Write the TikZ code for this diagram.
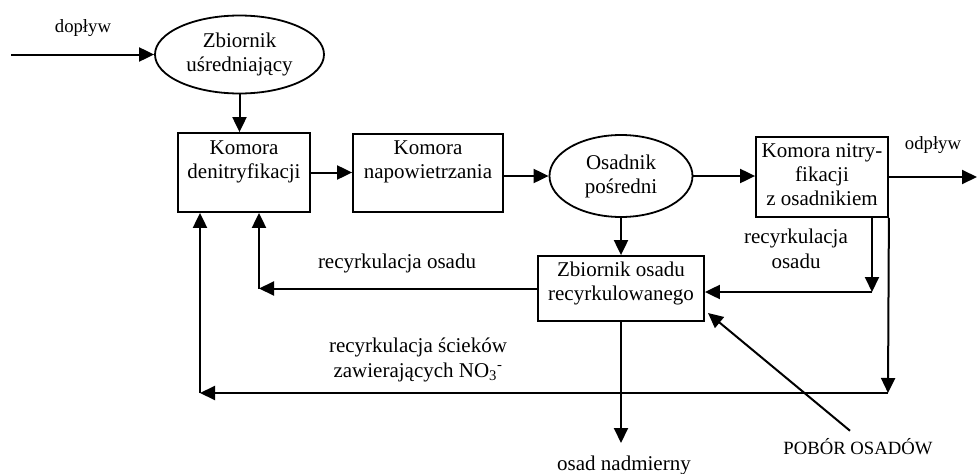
\documentclass[tikz,border=0pt]{standalone}
\usepackage{fontspec}
\setmainfont{Liberation Serif}
\usetikzlibrary{arrows.meta,shapes.geometric,calc}
\newcommand\bxtext[4]{\begin{minipage}[c][#2][t]{#1}\centering\vspace*{#3}#4\end{minipage}}
\tikzset{
  box/.style={draw, rectangle, inner sep=0pt, line width=1.8pt, font=\fontsize{21}{24}\selectfont},
  ell/.style={draw, ellipse, inner sep=0pt, line width=1.8pt, align=center, font=\fontsize{21}{24}\selectfont},
  lab/.style={inner sep=0pt, align=center, font=\fontsize{21}{24.5}\selectfont},
  slab/.style={inner sep=0pt, font=\fontsize{18.7}{22}\selectfont},
  conn/.style={line width=2pt, -{Triangle[length=15pt,width=14pt]}}
}
\begin{document}
\begin{tikzpicture}[x=1pt,y=-1pt]
\useasboundingbox (0,0) rectangle (978,474);
% nodes
\node[ell, minimum width=169pt, minimum height=78pt] (zb) at (239.5,54.5) {Zbiornik\\uśredniający};
\node[box] (den) at (244,172.5) {\bxtext{132pt}{79pt}{7.5pt}{Komora\\denitryfikacji}};
\node[box] (nap) at (428,173) {\bxtext{150pt}{78pt}{6.5pt}{Komora\\napowietrzania}};
\node[ell, minimum width=143pt, minimum height=82pt] (osa) at (621,176) {Osadnik\\pośredni};
\node[box] (nit) at (822,177) {\bxtext{132pt}{80pt}{6.5pt}{Komora nitry-\\fikacji\\z osadnikiem}};
\node[box] (zos) at (621,288.5) {\bxtext{166pt}{65pt}{5.5pt}{Zbiornik osadu\\recyrkulowanego}};
% labels
\node[slab, anchor=base] (dop) at (83,32) {dopływ};
\node[slab, anchor=base] (odp) at (933,149) {odpływ};
\node[lab, anchor=north] (rc1) at (796,229) {recyrkulacja\\osadu};
\node[lab, anchor=base] (rc2) at (397,268) {recyrkulacja osadu};
\node[lab, anchor=north] (rc3) at (418,338) {recyrkulacja ścieków\\zawierających NO\textsubscript{3}\textsuperscript{-}};
\node[lab, anchor=base] (exl) at (624,470) {osad nadmierny};
\node[slab, anchor=base] (pob) at (858,454) {POBÓR OSADÓW};
% coordinates
\coordinate (in) at (11,54.5);
\coordinate (out) at (977,177);
\coordinate (r1) at (872,292);
\coordinate (r2) at (888,393);
\coordinate (r3) at (200,393);
\coordinate (l1) at (259,288.5);
\coordinate (ex) at (621,443);
\coordinate (pt) at (708,313);
% connectors
\draw[conn] (in) -- (zb.west);
\draw[conn] (zb.south) -- (zb.south |- den.north);
\draw[conn] (den.east) -- (den.east -| nap.west);
\draw[conn] (nap.east |- osa.west) -- (osa.west);
\draw[conn] (osa.east) -- (osa.east -| nit.west);
\draw[conn] (nit.east) -- (out);
\draw[conn] (osa.south) -- (osa.south |- zos.north);
\draw[conn] (nit.south -| r1) -- (r1);
\draw[conn] (r1) -- (r1 -| zos.east);
\draw[conn] (nit.south east) -- (r2);
\draw[conn] (r2) -- (r3);
\draw[conn] (r3) -- (r3 |- den.south);
\draw[conn] (zos.west |- l1) -- (l1);
\draw[conn] (l1) -- (l1 |- den.south);
\draw[conn] (zos.south) -- (ex);
\draw[conn] ([xshift=-8pt,yshift=7pt]pob.north) -- (pt);
\end{tikzpicture}
\end{document}
